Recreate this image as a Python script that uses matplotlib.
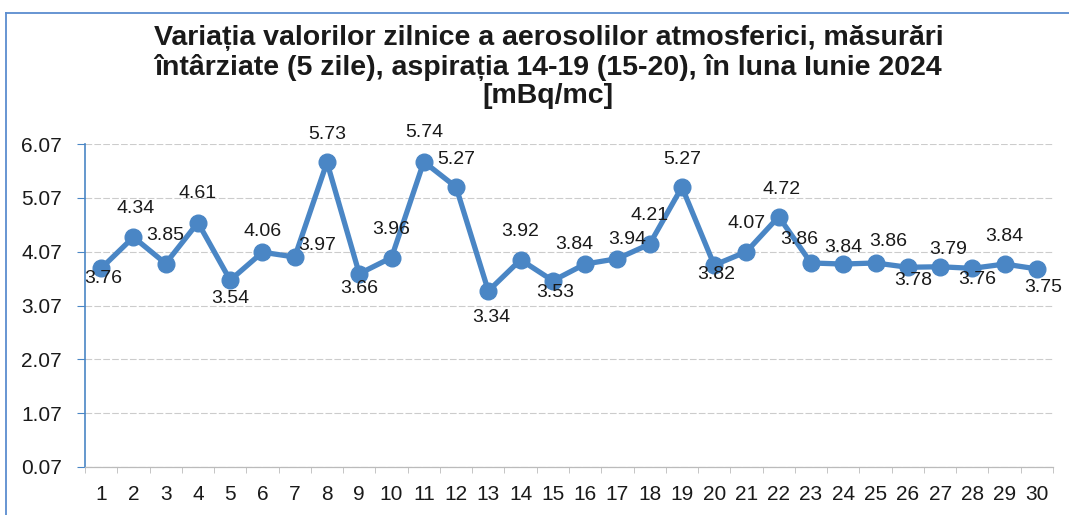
import matplotlib.pyplot as plt
from matplotlib.lines import Line2D

plt.rcParams['font.family'] = ['Liberation Sans', 'DejaVu Sans']

zile = list(range(1, 31))
valori = [3.76, 4.34, 3.85, 4.61, 3.54, 4.06, 3.97, 5.73, 3.66, 3.96,
          5.74, 5.27, 3.34, 3.92, 3.53, 3.84, 3.94, 4.21, 5.27, 3.82,
          4.07, 4.72, 3.86, 3.84, 3.86, 3.78, 3.79, 3.76, 3.84, 3.75]
y_ticks = [0.07, 1.07, 2.07, 3.07, 4.07, 5.07, 6.07]

# pozitia etichetelor fata de punct (pixeli)
offs = [(2, -10), (2, 29), (0, 28), (0, 29), (0, -18), (0, 21), (22, 12), (0, 28),
        (0, -15), (0, 28), (0, 29), (0, 28), (3, -27), (0, 28), (2, -12), (-11, 20),
        (10, 19), (0, 29), (0, 28), (2, -9), (0, 28), (3, 27), (-12, 23), (0, 17),
        (13, 21), (5, -13), (8, 17), (5, -11), (0, 28), (6, -19)]

blue = '#4a86c5'

fig = plt.figure(figsize=(10.69, 5.15), dpi=100)
ax = fig.add_axes([85 / 1069, 1 - 467 / 515, (1053 - 85) / 1069, (467 - 144) / 515])

ax.plot(zile, valori, color=blue, lw=3.8, marker='o', markersize=12, zorder=3)
for x, v, (dx, dy) in zip(zile, valori, offs):
    ax.annotate(f'{v:.2f}', (x, v), xytext=(dx * 0.72, dy * 0.72), textcoords='offset points',
                ha='center', va='center', fontsize=14, color='#1a1a1a', zorder=4)

ax.set_xlim(0.5, 30.5)
ax.set_ylim(0.07, 6.07)
ax.set_yticks(y_ticks)
ax.set_yticklabels([f'{t:.2f}' for t in y_ticks])
ax.set_xticks(zile)
ax.set_xticks([i + 0.5 for i in range(0, 31)], minor=True)
ax.tick_params(axis='x', which='major', length=0, labelsize=15, pad=13, colors='#1a1a1a')
ax.tick_params(axis='x', which='minor', length=4, color='#bbbbbb')
ax.tick_params(axis='y', length=5.5, color=blue, labelsize=15, pad=11, labelcolor='#1a1a1a')
ax.grid(axis='y', color='#cccccc', lw=0.8, ls=(0, (6, 2)))
for s in ['top', 'right']:
    ax.spines[s].set_visible(False)
ax.spines['left'].set_color(blue)
ax.spines['left'].set_linewidth(1.2)
ax.spines['bottom'].set_color('#bbbbbb')
ax.spines['bottom'].set_linewidth(0.9)

fig.text(0.513, 1 - 67 / 515,
         'Variația valorilor zilnice a aerosolilor atmosferici, măsurări\n'
         'întârziate (5 zile), aspirația 14-19 (15-20), în luna Iunie 2024\n'
         '[mBq/mc]',
         ha='center', va='center', fontsize=20.5, fontweight='bold', color='#1a1a1a',
         linespacing=1.12)

# chenarul graficului
fig.add_artist(Line2D([6 / 1069, 6 / 1069], [0, 1 - 13 / 515], transform=fig.transFigure,
                      color='#5b8ccf', lw=1.3))
fig.add_artist(Line2D([6 / 1069, 1], [1 - 13 / 515, 1 - 13 / 515], transform=fig.transFigure,
                      color='#5b8ccf', lw=1.3))

fig.savefig('out.png', dpi=100)
